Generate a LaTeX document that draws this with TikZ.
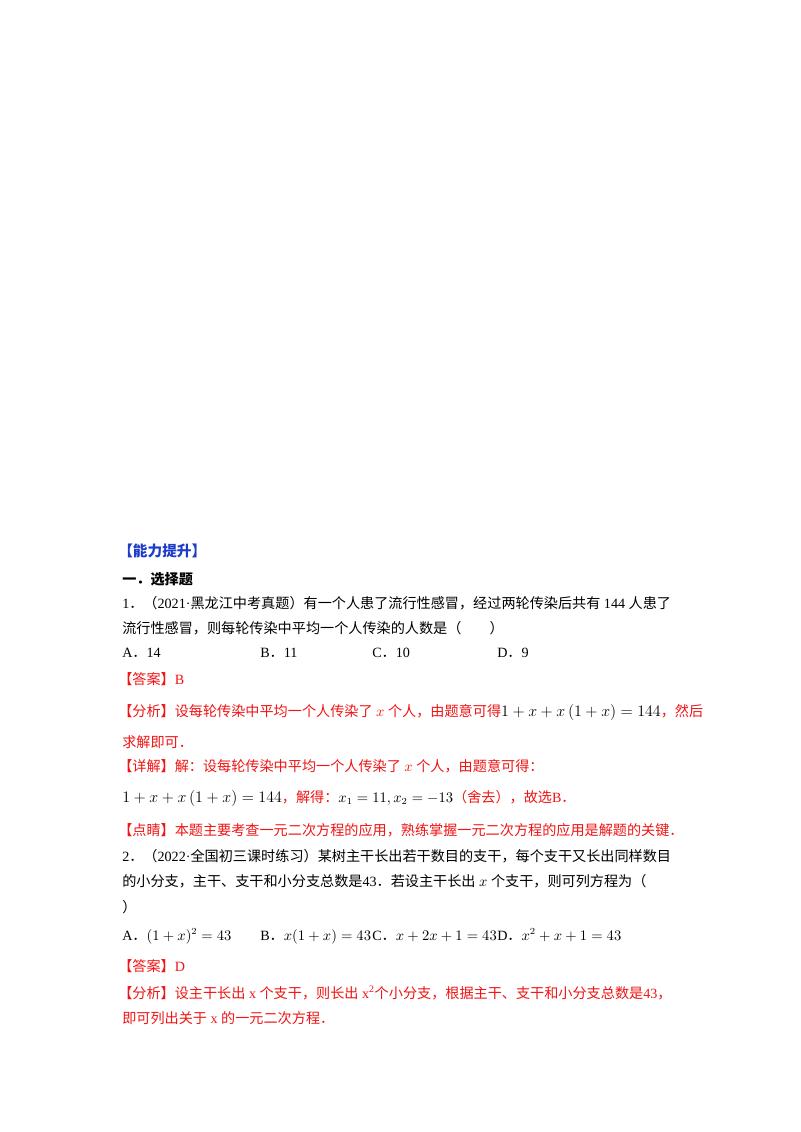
\documentclass[tikz,border=0pt]{standalone}
\usepackage{fontspec}
\setmainfont{Liberation Serif}
\newfontfamily\cjk{Noto Sans CJK SC}
\newcommand{\fp}{{\cjk ．}}
\newcommand{\fc}{{\cjk ，}}
\definecolor{ansred}{RGB}{240,20,20}
\definecolor{headblue}{RGB}{30,60,200}
\begin{document}
\begin{tikzpicture}[x=0.75pt,y=-0.75pt,
  txt/.style={anchor=base west,inner sep=0pt,font=\fontsize{10.6pt}{12pt}\selectfont},
  red/.style={txt,text=ansred}]
\useasboundingbox (0,0) rectangle (800,1132);
\fill[white] (0,0) rectangle (800,1132);
\node[txt,text=headblue,font=\fontsize{11pt}{12pt}\selectfont\bfseries] (h1) at (118,556) {\cjk\bfseries 【能力提升】};
\node[txt] (h2) at (122,584) {\cjk\bfseries 一．选择题};
\node[txt] (q1a) at (122,608) {1\fp{\cjk（}2021·\cjk 黑龙江中考真题）有一个人患了流行性感冒，经过两轮传染后共有\rmfamily\ 144 \cjk 人患了};
\node[txt] (q1b) at (122,633) {\cjk 流行性感冒，则每轮传染中平均一个人传染的人数是（\qquad）};
\node[txt] (q1A) at (122,657) {A\fp 14};
\node[txt] (q1B) at (260,657) {B\fp 11};
\node[txt] (q1C) at (372,657) {C\fp 10};
\node[txt] (q1D) at (497,657) {D\fp 9};
\node[red] (a1) at (118,684) {\cjk 【答案】\rmfamily B};
\node[red] (f1a) at (118,716) {\cjk 【分析】设每轮传染中平均一个人传染了\rmfamily\ $x$ \cjk 个人，由题意可得\textcolor{black}{\large$1+x+x\left(1+x\right)=144$}，然后};
\node[red] (f1b) at (122,747) {\cjk 求解即可．};
\node[red] (x1a) at (118,771) {\cjk 【详解】解：设每轮传染中平均一个人传染了\rmfamily\ $x$ \cjk 个人，由题意可得：};
\node[red] (x1b) at (122,802) {\textcolor{black}{\large$1+x+x\left(1+x\right)=144$}\cjk ，解得：\textcolor{black}{$x_1=11, x_2=-13$}\cjk （舍去），故选\rmfamily B\fp};
\node[red] (d1) at (118,835) {\cjk 【点睛】本题主要考查一元二次方程的应用，熟练掌握一元二次方程的应用是解题的关键．};
\node[txt] (q2a) at (122,861) {2\fp{\cjk（}2022·\cjk 全国初三课时练习）某树主干长出若干数目的支干，每个支干又长出同样数目};
\node[txt] (q2b) at (122,886) {\cjk 的小分支，主干、支干和小分支总数是\rmfamily 43\fp\cjk 若设主干长出\rmfamily\ $x$ \cjk 个支干，则可列方程为（};
\node[txt] (q2c) at (122,912) {\cjk ）};
\node[txt] (q2A) at (122,940) {A\fp$(1+x)^2=43$};
\node[txt] (q2B) at (260,940) {B\fp$x(1+x)=43$};
\node[txt] (q2C) at (372,940) {C\fp$x+2x+1=43$};
\node[txt] (q2D) at (497,940) {D\fp$x^2+x+1=43$};
\node[red] (a2) at (118,971) {\cjk 【答案】\rmfamily D};
\node[red] (f2a) at (118,998) {\cjk 【分析】设主干长出\rmfamily\ x \cjk 个支干，则长出\rmfamily\ x\textsuperscript{2}\cjk 个小分支，根据主干、支干和小分支总数是\rmfamily 43\fc};
\node[red] (f2b) at (122,1023) {\cjk 即可列出关于\rmfamily\ x \cjk 的一元二次方程．};
\end{tikzpicture}
\end{document}
